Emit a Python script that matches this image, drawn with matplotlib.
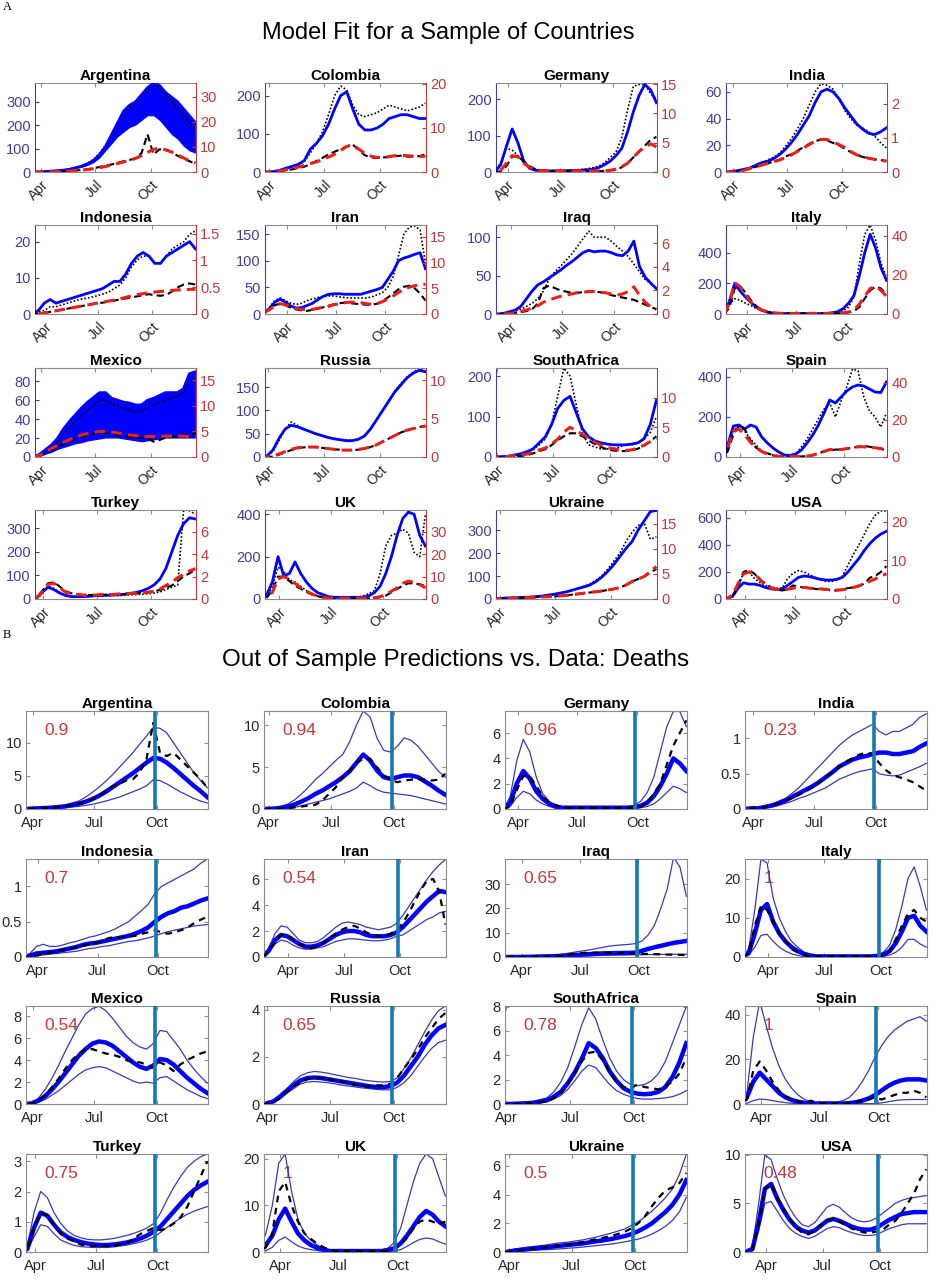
import numpy as np
import matplotlib
matplotlib.use('Agg')
import matplotlib.pyplot as plt

plt.rcParams['font.family'] = ['Liberation Sans', 'DejaVu Sans']

# ---------------- common axis data ----------------
DAYS = np.arange(50, 351, 10)          # day-of-year 2020 grid (Feb 19 ... Dec 15)
X_END = 351
FORECAST_DAY = 272
MONTH_TICKS = [92, 183, 275]
MONTH_LABELS = ['Apr', 'Jul', 'Oct']

COUNTRIES = ['Argentina', 'Colombia', 'Germany', 'India',
             'Indonesia', 'Iran', 'Iraq', 'Italy',
             'Mexico', 'Russia', 'SouthAfrica', 'Spain',
             'Turkey', 'UK', 'Ukraine', 'USA']
START_DAY = [82, 85, 72, 80, 74, 52, 66, 54, 82, 87, 90, 67, 78, 67, 86, 58]

# ---------------- Part A: model fit ----------------
A_YMAX_L = [380, 233, 244, 66.6, 24.6, 167, 116, 580, 94, 191, 220, 445, 378, 420, 387, 657]
A_YMAX_R = [35.4, 20.2, 15.2, 2.6, 1.66, 17.3, 7.55, 45.4, 17.4, 11.6, 15.0, 47.9, 7.93, 39.8, 17.8, 23.0]
A_TICKS_L = [[0, 100, 200, 300], [0, 100, 200], [0, 100, 200], [0, 20, 40, 60],
             [0, 10, 20], [0, 50, 100, 150], [0, 50, 100], [0, 200, 400],
             [0, 20, 40, 60, 80], [0, 50, 100, 150], [0, 100, 200], [0, 200, 400],
             [0, 100, 200, 300], [0, 200, 400], [0, 100, 200, 300], [0, 200, 400, 600]]
A_TICKS_R = [[0, 10, 20, 30], [0, 10, 20], [0, 5, 10, 15], [0, 1, 2],
             [0, 0.5, 1, 1.5], [0, 5, 10, 15], [0, 2, 4, 6], [0, 20, 40],
             [0, 5, 10, 15], [0, 5, 10], [0, 5, 10], [0, 20, 40],
             [0, 2, 4, 6], [0, 10, 20, 30], [0, 5, 10, 15], [0, 10, 20]]

# cm = model cases (blue), clo = lower envelope of oscillating model cases,
# cd = case data (black dotted), dm = model deaths (red), dd = death data (black dashed)
a_arg_cm = [0,0,0,0, 1,2,4,6,8,12, 18,25,35,50,75,110,160,210,260,285, 300,330,360,380,370,340,320,300,270,240, 210]
a_arg_clo = [0,0,0,0, 1,2,3,5,7,10, 15,20,28,40,60,90,120,150,170,190, 200,220,240,240,220,190,160,140,110,90, 80]
a_arg_cd = [0,0,0,0, 1,2,4,6,9,13, 19,27,38,55,80,115,160,200,240,270, 290,320,350,370,360,330,300,270,240,210, 180]
a_arg_dm = [0,0,0,0, 0,0.05,0.1,0.2,0.3,0.4, 0.6,0.8,1.0,1.3,1.7,2.2,2.8,3.4,4.0,4.6, 5.4,6.5,7.8,9.0,9.5,8.8,8.0,6.8,5.6,4.5, 3.6]
a_arg_dd = [0,0,0,0, 0,0.05,0.1,0.2,0.3,0.4, 0.6,0.8,1.1,1.5,2.0,2.6,3.0,3.6,4.3,4.8, 5.5,7.5,15,7,9,9,8,6.5,5.3,4.3, 3.3]

a_col_cm = [0,0,0,0, 0,1,5,10,15,20, 30,60,75,95,125,165,200,210,165,125, 110,110,115,125,140,145,150,150,145,140, 140]
a_col_cd = [0,0,0,0, 0,1,4,8,13,18, 28,50,75,105,150,200,225,215,175,150, 145,150,155,165,175,170,165,160,165,170, 180]
a_col_dm = [0,0,0,0, 0,0.1,0.3,0.5,0.8,1.1, 1.5,1.9,2.3,2.8,3.4,4.0,4.9,5.8,6.2,5.2, 4.2,3.6,3.3,3.3,3.5,3.7,3.8,3.7,3.6,3.5, 3.6]
a_col_dd = [0,0,0,0, 0,0.05,0.2,0.4,0.6,0.9, 1.2,1.8,2.5,3.2,4.0,4.6,5.2,5.8,6.2,5.0, 3.8,3.3,3.2,3.3,3.4,3.6,3.7,3.5,3.5,3.6, 4.0]

a_ger_cm = [0,0,0,20,70,118,80,30,10,5, 4,3,3,3,3,4,4,5,6,8, 12,20,30,45,65,110,165,210,240,225, 190]
a_ger_cd = [0,0,0,25,65,60,45,25,12,7, 5,4,4,4,5,5,6,7,9,12, 16,25,40,55,95,170,235,240,240,215, 200]
a_ger_dm = [0,0,0,0.3,1.5,2.8,2.6,1.5,0.8,0.4, 0.25,0.2,0.2,0.2,0.2,0.2,0.2,0.2,0.2,0.2, 0.2,0.2,0.3,0.5,0.9,1.5,2.5,3.5,4.3,4.8, 4.3]
a_ger_dd = [0,0,0,0.1,1.0,2.6,2.8,1.8,1.0,0.5, 0.3,0.2,0.15,0.15,0.15,0.15,0.15,0.15,0.15,0.15, 0.15,0.2,0.3,0.4,0.8,1.5,2.5,3.5,4.5,5.5, 6.0]

a_ind_cm = [0,0,0,0, 0.5,1,2,3,5,7, 8,10,13,17,22,28,35,42,52,60, 62,60,55,48,42,36,32,29,28,30, 33]
a_ind_cd = [0,0,0,0, 0.5,1,2,3,5,7, 9,11,14,19,25,32,40,50,60,66, 65,62,55,46,40,35,33,30,27,22, 18]
a_ind_dm = [0,0,0,0, 0,0.02,0.05,0.1,0.15,0.2, 0.25,0.3,0.35,0.42,0.5,0.6,0.7,0.8,0.9,0.95, 0.95,0.88,0.8,0.72,0.6,0.5,0.45,0.4,0.37,0.34, 0.32]
a_ind_dd = [0,0,0,0, 0,0.02,0.05,0.1,0.15,0.2, 0.25,0.3,0.36,0.45,0.52,0.62,0.72,0.82,0.9,0.95, 0.92,0.85,0.78,0.68,0.58,0.5,0.44,0.4,0.37,0.35, 0.32]

a_idn_cm = [0,0,0,1,3,4,3,3.5,4,4.5, 5,5.5,6,6.5,7,8,9,9,11,14, 16,17,16,14,14,16,17,18,19,20, 18]
a_idn_cd = [0,0,0,0.5,1,2,2,2.5,3,3.5, 4,4.3,4.6,5,5.5,6,7,8,10,13, 15,16,16,14,14,16,18,19,20,22, 23]
a_idn_dm = [0,0,0,0,0.02,0.04,0.06,0.08,0.1,0.12, 0.14,0.16,0.18,0.2,0.22,0.24,0.26,0.28,0.31,0.34, 0.36,0.38,0.4,0.41,0.42,0.43,0.44,0.45,0.45,0.46, 0.46]
a_idn_dd = [0,0,0,0,0.02,0.04,0.06,0.08,0.1,0.12, 0.14,0.16,0.18,0.2,0.21,0.23,0.25,0.27,0.29,0.31, 0.33,0.35,0.37,0.35,0.34,0.36,0.42,0.5,0.55,0.57, 0.55]

a_irn_cm = [2,10,22,28,22,15,11,12,16,20, 27,33,37,38,38,37,37,37,37,40, 43,46,50,65,80,100,105,108,112,115, 85]
a_irn_cd = [2,12,25,30,25,20,18,20,25,28, 31,33,34,34,32,31,30,30,30,30, 32,36,40,50,70,110,150,163,165,158, 95]
a_irn_dm = [0.3,0.8,1.6,2.0,1.8,1.3,1.0,0.9,0.8,0.9, 1.1,1.3,1.5,1.8,2.0,2.2,2.3,2.3,2.2,2.0, 1.9,2.0,2.4,2.9,3.5,4.2,4.8,5.2,5.5,5.7, 5.8]
a_irn_dd = [0.3,0.8,1.7,2.0,1.7,1.2,0.9,0.7,0.6,0.8, 1.0,1.3,1.6,1.9,2.1,2.2,2.1,2.0,1.9,1.8, 1.8,2.0,2.5,3.2,4.0,4.8,5.3,5.5,5.0,4.0, 2.6]

a_irq_cm = [0,0,0,1,3,5,10,20,30,38, 42,47,52,57,63,68,74,80,83,81, 82,82,80,77,76,82,95,62,48,40, 33]
a_irq_cd = [0,0,0,1,2,4,6,10,14,20, 30,45,55,62,70,78,88,98,108,100, 100,100,95,88,82,75,65,55,45,40, 35]
a_irq_dm = [0,0,0,0,0.05,0.1,0.2,0.35,0.5,0.7, 1.0,1.2,1.35,1.5,1.6,1.7,1.8,1.85,1.9,1.9, 1.85,1.8,1.7,1.6,1.7,1.9,2.3,1.6,1.0,0.6, 0.4]
a_irq_dd = [0,0,0,0,0.05,0.1,0.15,0.25,0.4,0.9, 2.2,2.4,2.2,2.0,1.9,1.8,1.8,1.85,1.9,1.9, 1.85,1.75,1.6,1.5,1.4,1.3,1.2,1.0,0.8,0.6, 0.4]

a_ita_cm = [0,80,200,150,110,75,45,25,12,6, 4,3,3,3,3,3,3,3,3,4, 8,15,35,70,120,250,400,520,430,300, 220]
a_ita_cd = [0,60,100,90,70,55,35,20,12,6, 4,3,3,3,3,3,3,3,3,4, 6,10,20,45,110,330,520,580,480,330, 240]
a_ita_dm = [0,5,16,14,10,6,3.5,2,1.2,0.7, 0.4,0.3,0.3,0.3,0.3,0.3,0.3,0.3,0.3,0.3, 0.3,0.4,0.6,1.0,2.0,5,9,13,14,12, 9]
a_ita_dd = [0,3,13,14,11,7,4,2.2,1.2,0.7, 0.4,0.3,0.3,0.3,0.3,0.3,0.3,0.3,0.3,0.3, 0.3,0.3,0.4,0.8,1.5,3.5,8,12,14,13, 10]

a_mex_cm = [0,0,0,0, 3,8,13,20,30,38, 45,52,58,63,68,68,62,60,58,57, 55,55,60,62,65,68,68,68,72,88, 90]
a_mex_clo = [0,0,0,0, 1,3,5,8,10,12, 14,15,17,18,19,20,20,20,19,18, 17,16,17,18,19,20,20,20,20,20, 20]
a_mex_cd = [0,0,0,0, 2,6,10,16,24,32, 38,44,50,55,60,60,56,54,52,50, 48,48,52,55,58,60,62,64,68,85, 90]
a_mex_dm = [0,0,0,0, 0.3,1.0,1.7,2.3,2.9,3.4, 3.9,4.3,4.6,4.8,5.0,5.0,4.9,4.7,4.5,4.3, 4.2,4.1,4.0,4.0,4.0,4.1,4.1,4.1,4.1,4.0, 3.8]
a_mex_dd = [0,0,0,0, 0.2,0.7,1.4,2.0,2.6,3.1, 3.6,4.0,4.4,4.6,4.8,4.7,4.5,4.3,4.1,3.9, 3.8,3.7,3.6,3.0,3.3,3.8,3.9,4.0,4.3,4.5, 4.5]

a_rus_cm = [0,0,0,0, 2,15,40,60,68,65, 60,55,50,46,42,39,37,35,35,38, 45,60,80,100,120,140,155,170,180,186, 183]
a_rus_cd = [0,0,0,0, 2,12,35,60,75,68, 60,55,50,46,42,40,38,36,36,38, 45,60,80,100,122,142,158,172,182,190, 185]
a_rus_dm = [0,0,0,0, 0,0.1,0.4,0.7,1.0,1.2, 1.3,1.3,1.3,1.2,1.1,1.0,0.9,0.9,0.9,1.0, 1.1,1.3,1.6,2.0,2.4,2.8,3.2,3.5,3.7,3.9, 4.0]
a_rus_dd = [0,0,0,0, 0,0.05,0.3,0.6,0.9,1.1, 1.25,1.3,1.3,1.2,1.1,1.0,0.95,0.9,0.9,0.95, 1.1,1.3,1.6,2.0,2.4,2.8,3.2,3.5,3.7,3.9, 4.1]

a_saf_cm = [0,0,0,0, 0,1,2,5,8,13, 20,35,50,80,120,140,150,110,70,50, 40,35,32,30,30,30,32,35,45,80, 140]
a_saf_cd = [0,0,0,0, 0,1,2,4,7,12, 18,30,45,80,150,220,200,130,60,30, 25,20,20,20,25,30,30,35,45,60, 100]
a_saf_dm = [0,0,0,0, 0,0.05,0.1,0.2,0.3,0.5, 0.8,1.2,1.5,2.2,3.0,4.2,5.0,4.5,3.8,3.2, 2.5,2.0,1.6,1.4,1.2,1.1,1.2,1.5,2.0,2.6, 3.2]
a_saf_dd = [0,0,0,0, 0,0.02,0.05,0.1,0.15,0.3, 0.6,1.0,1.3,2.0,2.8,3.5,4.0,4.0,3.5,2.8, 2.2,1.7,1.3,1.1,1.0,1.0,1.1,1.4,1.9,2.6, 3.5]

a_esp_cm = [0,0,60,155,160,140,160,150,100,70, 45,25,10,8,15,35,70,110,160,220, 285,270,300,330,350,360,355,340,325,322, 375]
a_esp_cd = [0,0,40,130,160,130,90,60,30,15, 10,5,5,5,15,50,90,140,190,240, 270,200,280,350,440,430,300,230,200,150, 220]
a_esp_dm = [0,0,5,14,15,12,8,5,3,1.5, 0.8,0.3,0.3,0.3,0.3,0.3,0.5,1,2,3, 4,4,4,4.5,5,5.5,5.5,5,5,4.5, 4]
a_esp_dd = [0,0,3,12,17,15,9,5,3,2, 1,0.5,0.3,0.3,0.3,0.3,0.5,1,2,3, 3.5,4,4,4.5,5,5.5,6,5.5,5,4.5, 3.5]

a_tur_cm = [0,0,0,2,28,50,40,25,15,10, 10,10,12,14,15,16,17,18,20,24, 28,35,45,60,85,130,200,270,320,345, 340]
a_tur_cd = [0,0,0,1,20,55,45,28,16,10, 9,9,10,12,13,14,14,15,16,18, 19,20,22,25,30,40,50,60,378,375, 360]
a_tur_dm = [0,0,0,0.1,0.6,1.3,1.4,1.0,0.6,0.45, 0.4,0.35,0.35,0.35,0.4,0.4,0.4,0.45,0.45,0.5, 0.5,0.55,0.6,0.7,0.9,1.2,1.5,1.9,2.2,2.5, 2.7]
a_tur_dd = [0,0,0,0.1,0.7,1.4,1.5,1.1,0.7,0.5, 0.4,0.35,0.35,0.35,0.35,0.4,0.4,0.4,0.45,0.5, 0.5,0.55,0.6,0.7,0.8,1.0,1.2,1.6,2.0,2.3, 2.6]

a_uk_cm = [0,0,20,80,200,110,120,175,120,80, 50,30,20,10,8,8,8,8,8,8, 15,30,60,120,200,300,380,410,400,300, 250]
a_uk_cd = [0,0,10,60,150,130,90,80,60,40, 25,15,8,8,8,8,8,8,8,15, 25,40,120,250,300,310,330,310,220,200, 400]
a_uk_dm = [0,0,1,3,9,10,9,7,5,3.5, 2.2,1.3,0.8,0.4,0.4,0.4,0.4,0.4,0.4,0.4, 0.4,0.6,1,2,3.5,5,7,8,7.5,6.5, 5]
a_uk_dd = [0,0,0.5,4,10,10,8,6,4.5,3.2, 2,1.2,0.7,0.4,0.3,0.3,0.3,0.3,0.3,0.3, 0.3,0.4,0.8,1.5,3,4.5,6,7,7,6.5, 6]

a_ukr_cm = [0,0,0,0, 2,4,5,6,7,8, 10,12,16,20,25,30,37,45,52,60, 75,95,120,150,185,220,250,300,340,380, 385]
a_ukr_cd = [0,0,0,0, 2,4,5,6,7,8, 10,12,16,20,25,30,37,45,55,65, 80,100,130,165,200,250,290,320,330,260, 270]
a_ukr_dm = [0,0,0,0, 0.05,0.1,0.15,0.2,0.25,0.3, 0.35,0.4,0.45,0.5,0.6,0.7,0.85,1.0,1.15,1.3, 1.45,1.6,1.8,2.0,2.3,2.8,3.5,4.0,4.5,5.5, 6.5]
a_ukr_dd = [0,0,0,0, 0.05,0.1,0.15,0.2,0.25,0.3, 0.35,0.4,0.45,0.5,0.6,0.7,0.85,1.0,1.15,1.3, 1.45,1.6,1.8,2.0,2.3,2.8,3.5,4.0,4.5,5.3, 6.0]

a_usa_cm = [0,5,20,80,120,110,110,100,85,75, 70,75,100,130,160,170,165,155,145,140, 140,145,160,200,250,300,360,410,450,480, 500]
a_usa_cd = [0,3,15,80,200,200,150,120,100,90, 80,80,150,190,210,200,180,160,140,130, 130,140,170,250,330,400,480,560,620,650, 650]
a_usa_dm = [0,0.2,1,4,6.5,7,6.5,5,3.5,2.8, 2.5,2.3,2.5,2.8,3,3,2.8,2.7,2.6,2.5, 2.4,2.3,2.4,2.6,3.0,3.4,4.0,4.6,5.2,6, 6.5]
a_usa_dd = [0,0.1,0.8,3.5,7,7.5,6.5,5,4,3, 2.5,2.2,2.5,3.5,3.2,3.0,3.0,2.6,2.5,2.4, 2.2,2.2,2.5,2.8,3.0,3.3,4.0,5.5,6.0,7.0, 8.5]

# ---------------- Part B: out-of-sample death predictions ----------------
B_YMAX = [14.8, 11.7, 7.74, 1.39, 1.39, 7.55, 40.3, 25, 8.93, 4.15, 8.05, 43.8, 3.24, 21, 6.82, 10.07]
B_YTICKS = [[0, 5, 10], [0, 5, 10], [0, 2, 4, 6], [0, 0.5, 1],
            [0, 0.5, 1], [0, 2, 4, 6], [0, 10, 20, 30], [0, 10, 20],
            [0, 2, 4, 6, 8], [0, 2, 4], [0, 2, 4, 6, 8], [0, 20, 40],
            [0, 1, 2, 3], [0, 10, 20], [0, 2, 4, 6], [0, 5, 10]]
B_SCORE = ['0.9', '0.94', '0.96', '0.23', '0.7', '0.54', '0.65', '1',
           '0.54', '0.65', '0.78', '1', '0.75', '1', '0.5', '0.48']

b_arg_med = [0,0,0,0, 0.05,0.1,0.15,0.2,0.3,0.4, 0.6,0.8,1.1,1.5,2.0,2.6,3.3,4.0,4.7,5.4, 6.2,7.0,7.7,7.6,7.0,6.2,5.3,4.4,3.5,2.7, 1.8]
b_arg_hi = [0,0,0,0, 0.08,0.15,0.25,0.35,0.45,0.6, 0.9,1.2,1.8,2.5,3.3,4.2,5.2,6.3,7.4,8.5, 9.8,11,12.3,12.2,11.5,10,8.5,7,5.5,4.3, 3.2]
b_arg_lo = [0,0,0,0, 0.02,0.05,0.07,0.1,0.15,0.2, 0.3,0.4,0.55,0.7,0.95,1.2,1.5,1.8,2.2,2.6, 3.0,3.5,4.4,4.3,3.8,3.2,2.6,2.1,1.6,1.2, 0.9]
b_arg_data = [0,0,0,0, 0.05,0.1,0.15,0.2,0.3,0.4, 0.6,0.8,1.1,1.5,2.0,2.8,3.4,3.8,4.3,4.5, 5.5,7.5,13,8.5,8,8.5,7.5,6.5,5.5,4.5, 3.2]

b_col_med = [0,0,0,0, 0.02,0.05,0.15,0.3,0.55,0.9, 1.3,1.8,2.2,2.7,3.2,3.8,4.5,5.5,6.5,5.8, 4.6,3.8,3.6,3.8,4.0,4.0,3.8,3.3,2.8,2.2, 1.7]
b_col_hi = [0,0,0,0, 0.05,0.1,0.3,0.6,1.1,1.8, 2.6,3.5,4.2,5,5.8,6.5,8,10,11.7,11, 8.5,7,6.8,7.5,8.5,8.2,7.5,6.5,5.5,4.5, 3.8]
b_col_lo = [0,0,0,0, 0.01,0.02,0.05,0.1,0.2,0.4, 0.6,0.8,1.0,1.2,1.5,1.8,2.1,2.5,3.2,2.8, 2.3,2.0,1.9,1.8,1.7,1.6,1.4,1.2,1.0,0.8, 0.6]
b_col_data = [0,0,0,0, 0,0,0.05,0.1,0.2,0.3, 0.4,0.5,1.0,1.8,2.6,3.8,4.6,5.5,6.0,6.0, 5.0,4.0,3.5,3.2,3.4,3.5,3.6,3.5,3.4,3.5, 4.2]

b_ger_med = [0,0,0,0.5,2.0,3.0,2.4,1.4,0.8,0.4, 0.2,0.1,0.1,0.1,0.1,0.1,0.1,0.1,0.1,0.1, 0.1,0.1,0.15,0.25,0.5,1.0,1.8,2.8,4.0,3.6, 3.0]
b_ger_hi = [0,0,0,1,3.8,5.5,4.5,2.5,1.2,0.6, 0.3,0.15,0.15,0.15,0.15,0.15,0.15,0.15,0.15,0.15, 0.15,0.15,0.3,0.6,1.3,2.5,4.5,6.5,7.7,7.7, 6.5]
b_ger_lo = [0,0,0,0.2,0.9,1.4,1.2,0.7,0.4,0.2, 0.05,0.05,0.05,0.05,0.05,0.05,0.05,0.05,0.05,0.05, 0.05,0.05,0.05,0.1,0.2,0.4,0.8,1.3,1.8,1.6, 1.3]
b_ger_data = [0,0,0,0.2,1.5,2.6,2.6,1.8,1.0,0.5, 0.3,0.1,0.1,0.1,0.1,0.1,0.1,0.1,0.1,0.1, 0.1,0.1,0.1,0.2,0.5,1.2,2.0,3.5,5.0,6.0, 7.0]

b_ind_med = [0,0,0,0, 0.01,0.01,0.03,0.05,0.08,0.12, 0.17,0.22,0.27,0.32,0.38,0.45,0.52,0.6,0.65,0.7, 0.73,0.75,0.78,0.8,0.8,0.78,0.78,0.8,0.82,0.88, 0.93]
b_ind_hi = [0,0,0,0, 0.01,0.02,0.04,0.07,0.11,0.15, 0.22,0.3,0.4,0.5,0.6,0.7,0.8,0.9,0.98,1.05, 1.1,1.15,1.2,1.1,1.05,1.1,1.1,1.15,1.2,1.3, 1.35]
b_ind_lo = [0,0,0,0, 0.005,0.01,0.02,0.03,0.05,0.08, 0.11,0.15,0.18,0.22,0.26,0.3,0.36,0.42,0.46,0.5, 0.53,0.55,0.57,0.5,0.48,0.47,0.48,0.52,0.56,0.6, 0.65]
b_ind_data = [0,0,0,0, 0.01,0.01,0.03,0.05,0.08,0.12, 0.16,0.2,0.25,0.3,0.37,0.45,0.52,0.6,0.67,0.72, 0.77,0.8,0.78,0.65,0.55,0.48,0.45,0.42,0.38,0.32, 0.26]

b_idn_med = [0,0,0,0.02,0.05,0.06,0.07,0.08,0.1,0.12, 0.14,0.17,0.19,0.2,0.22,0.24,0.26,0.28,0.3,0.33, 0.37,0.42,0.5,0.57,0.62,0.65,0.7,0.72,0.76,0.8, 0.83]
b_idn_hi = [0,0,0,0.05,0.15,0.18,0.15,0.15,0.17,0.2, 0.22,0.25,0.28,0.3,0.33,0.36,0.4,0.45,0.5,0.58, 0.66,0.75,0.9,1.0,1.05,1.1,1.15,1.2,1.25,1.33, 1.39]
b_idn_lo = [0,0,0,0,0.02,0.03,0.04,0.05,0.06,0.07, 0.08,0.1,0.12,0.13,0.15,0.16,0.18,0.2,0.22,0.23, 0.25,0.27,0.3,0.33,0.36,0.38,0.4,0.42,0.44,0.45, 0.46]
b_idn_data = [0,0,0,0,0.02,0.04,0.06,0.08,0.1,0.12, 0.14,0.16,0.18,0.2,0.23,0.27,0.28,0.28,0.29,0.3, 0.33,0.35,0.38,0.35,0.33,0.35,0.38,0.42,0.48,0.53, 0.57]

b_irn_med = [0,0.5,1.3,1.7,1.6,1.3,1.0,0.8,0.8,0.9, 1.1,1.4,1.7,1.9,2.0,2.0,1.9,1.7,1.6,1.6, 1.6,1.7,1.9,2.3,2.8,3.3,3.8,4.3,4.7,5.1, 5.0]
b_irn_hi = [0,0.7,1.8,2.4,2.3,1.8,1.3,1.1,1.1,1.2, 1.5,1.9,2.3,2.6,2.7,2.6,2.5,2.3,2.2,2.1, 2.2,2.3,2.6,3.2,3.9,4.6,5.3,6.0,6.6,7.1, 7.5]
b_irn_lo = [0,0.4,1.0,1.3,1.2,0.9,0.7,0.6,0.6,0.7, 0.8,1.0,1.2,1.3,1.4,1.4,1.35,1.3,1.25,1.25, 1.3,1.4,1.6,1.7,2.0,2.3,2.6,2.9,3.1,3.4, 3.5]
b_irn_data = [0,0.5,1.1,1.7,1.7,1.4,1.0,0.8,0.7,0.8, 1.1,1.5,1.8,2.1,2.3,2.4,2.2,1.9,1.7,1.6, 1.6,1.8,2.1,2.6,3.4,4.3,5.2,5.9,6.0,5.0, 2.5]

b_irq_med = [0,0,0,0,0,0.05,0.1,0.2,0.25,0.3, 0.45,0.6,0.75,0.9,1.05,1.2,1.35,1.5,1.55,1.6, 1.65,1.7,1.8,2.5,3.3,4.0,4.6,5.2,5.8,6.2, 6.6]
b_irq_hi = [0,0,0,0,0,0.1,0.2,0.3,0.45,0.6, 0.9,1.3,1.8,2.2,2.6,3.0,3.5,4.0,4.5,4.8, 5.0,5.2,5.5,6.5,9,13,20,28,41,37, 25]
b_irq_lo = [0,0,0,0,0,0.02,0.04,0.06,0.08,0.1, 0.15,0.2,0.3,0.35,0.4,0.5,0.6,0.7,0.75,0.8, 0.85,0.9,0.9,0.95,1.0,1.0,1.05,1.05,1.1,1.1, 1.1]
b_irq_data = [0,0,0,0,0,0.05,0.1,0.15,0.2,0.2, 0.4,0.8,1.2,1.5,1.7,1.8,1.8,1.8,1.75,1.7, 1.65,1.6,1.5,1.3,1.25,1.2,1.1,1.0,0.95,0.9, 0.8]

b_ita_med = [0,1,6,12,13.5,9,6,4,2.5,1.5, 0.8,0.4,0.15,0.15,0.15,0.15,0.15,0.15,0.15,0.15, 0.15,0.15,0.3,0.6,1.5,3.5,6.5,10,10.5,8, 6.5]
b_ita_hi = [0,2,12,25,24,15,10,6.5,4,2.5, 1.3,0.6,0.3,0.3,0.3,0.3,0.3,0.3,0.3,0.3, 0.3,0.3,0.5,1.2,3,7,13,20,23,18, 12]
b_ita_lo = [0,0.5,2.5,5.5,5.8,4,2.5,1.5,0.8,0.4, 0.1,0.1,0.1,0.1,0.1,0.1,0.1,0.1,0.1,0.1, 0.1,0.1,0.1,0.2,0.5,1.2,2.5,4.5,4.5,3.3, 2.5]
b_ita_data = [0,1,8,13,12,9,6,4,2,1.2, 0.6,0.2,0.2,0.2,0.2,0.2,0.2,0.2,0.2,0.2, 0.2,0.2,0.2,0.4,1.5,4.5,8,11,12,10, 9]

b_mex_med = [0,0,0,0, 0.05,0.3,0.7,1.3,2.0,2.8, 3.6,4.4,5.0,5.5,5.7,5.6,5.3,4.8,4.3,3.8, 3.4,3.2,3.5,4.1,4.0,3.6,3.0,2.4,1.9,1.4, 1.0]
b_mex_hi = [0,0,0,0, 0.1,0.5,1.3,2.3,3.5,4.8, 6.0,7.2,8.2,8.7,8.9,8.5,7.8,7.0,6.2,5.6, 5.2,5.0,5.5,6.7,6.6,5.8,5.0,4.0,3.2,2.5, 1.9]
b_mex_lo = [0,0,0,0, 0.02,0.15,0.4,0.8,1.2,1.7, 2.2,2.7,3.1,3.3,3.4,3.3,3.0,2.7,2.4,2.1, 1.9,2.0,1.9,2.4,2.5,2.1,1.7,1.3,1.0,0.7, 0.5]
b_mex_data = [0,0,0,0, 0.05,0.3,0.8,1.5,2.3,3.2, 4.0,4.6,5.0,5.0,4.8,4.6,4.5,4.3,4.0,3.8, 3.8,3.6,3.3,3.8,3.5,3.0,3.6,4.0,4.3,4.6, 4.8]

b_rus_med = [0,0,0,0, 0.02,0.1,0.3,0.55,0.8,1.0, 1.1,1.12,1.1,1.05,1.0,0.95,0.9,0.85,0.8,0.75, 0.72,0.72,0.75,0.9,1.2,1.6,2.0,2.5,2.9,3.2, 3.35]
b_rus_hi = [0,0,0,0, 0.04,0.15,0.4,0.65,0.95,1.2, 1.32,1.38,1.35,1.3,1.24,1.18,1.12,1.08,1.02,0.98, 0.95,0.93,0.95,1.1,1.5,1.95,2.5,3.05,3.55,3.95, 4.15]
b_rus_lo = [0,0,0,0, 0.01,0.07,0.22,0.45,0.65,0.85, 0.93,0.95,0.93,0.9,0.85,0.8,0.76,0.72,0.68,0.65, 0.62,0.6,0.6,0.7,0.9,1.2,1.6,2.0,2.35,2.6, 2.7]
b_rus_data = [0,0,0,0, 0,0.05,0.25,0.5,0.75,0.9, 1.05,1.15,1.1,1.05,1.0,0.95,0.85,0.8,0.75,0.75, 0.78,0.8,0.85,1.1,1.5,1.9,2.3,2.8,3.2,3.6, 3.85]

b_saf_med = [0,0,0,0, 0,0.01,0.03,0.06,0.1,0.2, 0.3,0.6,1.0,1.7,2.6,3.7,5.0,4.6,3.8,2.7, 1.9,1.3,1.0,0.85,0.8,0.85,1.0,1.4,2.2,3.4, 5.0]
b_saf_hi = [0,0,0,0, 0,0.02,0.05,0.1,0.2,0.35, 0.5,1.0,1.8,3.0,4.7,6.5,7.9,7.0,5.3,3.8, 2.7,2.0,1.6,1.5,1.6,1.9,2.5,3.5,5.0,6.5, 8.0]
b_saf_lo = [0,0,0,0, 0,0.005,0.01,0.03,0.05,0.1, 0.2,0.4,0.7,1.2,1.9,2.7,3.2,3.0,2.3,1.6, 1.1,0.8,0.6,0.45,0.4,0.4,0.45,0.5,0.6,0.8, 1.1]
b_saf_data = [0,0,0,0, 0,0.01,0.03,0.05,0.1,0.15, 0.2,0.5,0.9,1.6,2.5,3.5,4.2,4.3,3.6,2.6, 1.8,1.4,1.3,1.6,1.4,1.3,1.2,1.5,1.8,2.5, 3.8]

b_esp_med = [0,0,3,10,14,11,8,5,3,1.8, 1.0,0.5,0.2,0.2,0.2,0.2,0.2,0.2,0.4,0.8, 1.5,2.5,4,6,8,9.5,10.5,11,11,11, 10.5]
b_esp_hi = [0,0,5,30,46,35,25,17,11,7, 4,2,1,0.8,0.8,0.8,0.8,1.5,3,6, 10,15,21,26,30,33,35,37,38,39, 37]
b_esp_lo = [0,0,0.3,1.5,2.2,2.0,1.5,1.0,0.6,0.3, 0.15,0.15,0.15,0.15,0.15,0.15,0.15,0.15,0.15,0.15, 0.15,0.15,0.15,0.5,1.0,1.5,1.8,2.0,2.0,2.0, 2.0]
b_esp_data = [0,0,2,15,19,15,10,6,3.5,2, 1,0.5,1.5,0.3,0.3,0.3,0.3,0.3,0.3,0.8, 1.5,2,3,2,3,4,5,5,6,5, 3]

b_tur_med = [0,0,0,0.1,0.8,1.3,1.2,0.9,0.65,0.5, 0.4,0.33,0.28,0.25,0.23,0.23,0.25,0.28,0.32,0.38, 0.45,0.55,0.68,0.85,1.1,1.35,1.6,1.85,2.05,2.2, 2.32]
b_tur_hi = [0,0,0,0.2,1.3,2.0,1.8,1.3,0.95,0.7, 0.55,0.47,0.42,0.4,0.4,0.42,0.45,0.5,0.55,0.62, 0.7,0.8,0.95,1.3,1.75,2.15,2.5,2.8,3.0,3.15, 3.24]
b_tur_lo = [0,0,0,0.05,0.5,0.9,0.85,0.6,0.4,0.3, 0.22,0.18,0.16,0.15,0.15,0.15,0.17,0.2,0.23,0.28, 0.33,0.4,0.5,0.65,0.82,0.98,1.12,1.25,1.35,1.43, 1.5]
b_tur_data = [0,0,0,0.05,0.8,1.3,1.2,0.9,0.6,0.45, 0.35,0.25,0.2,0.2,0.2,0.2,0.2,0.25,0.3,0.45, 0.6,0.7,0.8,0.72,0.8,0.95,1.15,1.5,2.0,2.5, 3.0]

b_uk_med = [0,0,1.5,3.5,7,9.3,6.5,4,2.5,1.5, 0.9,0.5,0.2,0.2,0.2,0.2,0.2,0.2,0.2,0.2, 0.2,0.4,0.8,1.8,3.5,5.5,7.5,8.8,8.0,6.5, 5.5]
b_uk_hi = [0,0,4,10,19,21,13,7,4,2.5, 1.5,0.8,0.4,0.4,0.4,0.4,0.4,0.4,0.4,0.4, 0.4,0.8,2,5,10,15,19,21,20,16, 12]
b_uk_lo = [0,0,0.3,1,2.5,3.2,2.2,1.3,0.8,0.5, 0.3,0.1,0.1,0.1,0.1,0.1,0.1,0.1,0.1,0.1, 0.1,0.1,0.2,0.5,1.2,2.0,2.7,3.0,2.8,2.2, 1.7]
b_uk_data = [0,0,1,4,13,15,10,6.5,4,2.8, 1.8,1.0,0.5,0.2,0.2,0.2,0.2,0.2,0.2,0.2, 0.2,0.3,0.6,1.5,3,5,6.5,7.0,6.5,6.0, 6.5]

b_ukr_med = [0,0,0,0, 0.02,0.1,0.15,0.2,0.25,0.3, 0.35,0.4,0.45,0.5,0.55,0.6,0.68,0.75,0.82,0.9, 1.0,1.1,1.25,1.45,1.7,2.0,2.4,2.8,3.3,4.0, 5.0]
b_ukr_hi = [0,0,0,0, 0.05,0.2,0.28,0.35,0.4,0.45, 0.52,0.6,0.65,0.7,0.78,0.85,0.95,1.05,1.18,1.3, 1.45,1.6,1.85,2.1,2.45,2.85,3.3,3.8,4.4,5.4, 6.8]
b_ukr_lo = [0,0,0,0, 0.01,0.05,0.07,0.1,0.12,0.15, 0.17,0.2,0.23,0.27,0.3,0.35,0.4,0.45,0.5,0.55, 0.62,0.7,0.8,0.9,1.05,1.25,1.5,1.8,2.2,2.8, 3.8]
b_ukr_data = [0,0,0,0, 0.02,0.1,0.15,0.2,0.25,0.3, 0.35,0.4,0.47,0.55,0.62,0.7,0.8,0.9,1.0,1.1, 1.25,1.4,1.65,2.0,2.5,3.2,3.8,4.3,4.5,4.8, 5.5]

b_usa_med = [0,0.05,0.3,3,6.5,7.0,5.5,4.3,3.3,2.6, 2.2,2.0,2.2,2.7,3.2,3.4,3.2,2.9,2.6,2.4, 2.3,2.3,2.5,2.9,3.3,3.6,3.9,4.0,4.1,4.1, 4.1]
b_usa_hi = [0,0.1,0.5,5,10,9.5,7.5,5.8,4.5,3.5, 2.8,2.6,3,3.8,4.6,4.9,4.6,4,3.5,3.2, 3.1,3.2,3.5,4,4.5,5.0,5.3,5.5,5.6,5.7, 5.8]
b_usa_lo = [0,0.02,0.2,2.2,5.0,5.2,4.2,3.2,2.4,1.9, 1.6,1.4,1.6,2.0,2.4,2.6,2.5,2.2,2.0,1.8, 1.7,1.7,1.8,2.1,2.4,2.6,2.8,2.9,2.9,2.9, 2.9]
b_usa_data = [0,0.02,0.2,3,6.5,7.0,5.5,4.5,3.5,2.5, 2.0,1.8,2.2,2.8,3.3,3.4,3.1,2.8,2.4,2.2, 2.0,2.0,2.1,2.3,2.8,3.2,4.0,5.0,6.0,7.5, 8.5]

# ---------------- tables built from the lists ----------------
KEYS = ['arg', 'col', 'ger', 'ind', 'idn', 'irn', 'irq', 'ita',
        'mex', 'rus', 'saf', 'esp', 'tur', 'uk', 'ukr', 'usa']
G = globals()
for kk in KEYS:
    for s in ['cm', 'cd', 'dm', 'dd']:
        assert len(G['a_%s_%s' % (kk, s)]) == len(DAYS), ('a', kk, s)
    for s in ['med', 'hi', 'lo', 'data']:
        assert len(G['b_%s_%s' % (kk, s)]) == len(DAYS), ('b', kk, s)

# ---------------- figure ----------------
W, H = 939, 1280
fig = plt.figure(figsize=(W / 100, H / 100), dpi=100)


def rect(l, t, w, h):
    return [l / W, 1 - (t + h) / H, w / W, h / H]


BLUE = '#0000ff'
LBLUE = '#3f3f9c'
RED = '#e8201c'
RED_TXT = '#c0393b'
GRAY = '#8c8c8c'
TXT = '#262626'
THIN = '#3a3ab0'
VLINE = '#1479b4'


def fmt(v):
    return '%g' % v


A_LEFT = [35, 265, 496, 726]
A_TOP = [83, 225, 368, 510]
A_W, A_H = 161, 89

for k, name in enumerate(COUNTRIES):
    kk = KEYS[k]
    r, c = divmod(k, 4)
    ax = fig.add_axes(rect(A_LEFT[c], A_TOP[r], A_W, A_H))
    ax2 = ax.twinx()
    cm = G['a_%s_cm' % kk]
    lo_name = 'a_%s_clo' % kk
    if lo_name in G:
        ax.fill_between(DAYS, G[lo_name], cm, color=BLUE, lw=0, zorder=2)
    ax.plot(DAYS, G['a_%s_cd' % kk], linestyle=(0, (1, 1.2)), color='k', lw=1.2, zorder=2)
    ax.plot(DAYS, cm, '-', color=BLUE, lw=2.0, zorder=3)
    ax2.plot(DAYS, G['a_%s_dd' % kk], color='k', lw=1.5, dashes=(3.5, 2))
    ax2.plot(DAYS, G['a_%s_dm' % kk], color=RED, lw=2.2, dashes=(3.5, 2))
    ax.set_xlim(START_DAY[k], X_END)
    ax.set_ylim(0, A_YMAX_L[k])
    ax2.set_ylim(0, A_YMAX_R[k])
    ax.set_yticks(A_TICKS_L[k])
    ax.set_yticklabels([fmt(v) for v in A_TICKS_L[k]])
    ax2.set_yticks(A_TICKS_R[k])
    ax2.set_yticklabels([fmt(v) for v in A_TICKS_R[k]])
    ax.set_xticks(MONTH_TICKS)
    ax.set_xticklabels(MONTH_LABELS, rotation=45, ha='right', va='top',
                       rotation_mode='anchor')
    ax.tick_params(axis='x', direction='in', length=3, top=True, color=GRAY,
                   labelcolor=TXT, labelsize=10, pad=4)
    ax.tick_params(axis='y', direction='in', length=3, colors=LBLUE,
                   labelsize=10.5, pad=3)
    ax2.tick_params(axis='y', direction='in', length=3, colors=RED_TXT,
                    labelsize=10.5, pad=3)
    for sp in ['top', 'bottom']:
        ax.spines[sp].set_color(GRAY)
        ax2.spines[sp].set_visible(False)
    ax.spines['left'].set_color(LBLUE)
    ax.spines['right'].set_visible(False)
    ax2.spines['left'].set_visible(False)
    ax2.spines['right'].set_color(RED_TXT)
    for sp in list(ax.spines.values()) + list(ax2.spines.values()):
        sp.set_linewidth(0.8)
    ax.set_title(name, fontsize=11, fontweight='bold', pad=2, color='k')

B_LEFT = [26, 264, 505, 745]
B_TOP = [711, 859, 1006, 1154]
B_W, B_H = 182, 98

for k, name in enumerate(COUNTRIES):
    kk = KEYS[k]
    r, c = divmod(k, 4)
    ax = fig.add_axes(rect(B_LEFT[c], B_TOP[r], B_W, B_H))
    ax.text(0.1, 0.8, B_SCORE[k], transform=ax.transAxes, color=RED_TXT,
            fontsize=12.5, ha='left', va='center', zorder=1.5)
    ax.plot(DAYS, G['b_%s_hi' % kk], color=THIN, lw=0.9, zorder=2)
    ax.plot(DAYS, G['b_%s_lo' % kk], color=THIN, lw=0.9, zorder=2)
    ax.plot(DAYS, G['b_%s_med' % kk], color=BLUE, lw=3.2, zorder=2.5)
    ax.plot(DAYS, G['b_%s_data' % kk], color='k', lw=1.6, dashes=(3, 2.5), zorder=3)
    ax.axvline(FORECAST_DAY, color=VLINE, lw=2.6, zorder=4)
    ax.set_xlim(START_DAY[k], X_END)
    ax.set_ylim(0, B_YMAX[k])
    ax.set_yticks(B_YTICKS[k])
    ax.set_yticklabels([fmt(v) for v in B_YTICKS[k]])
    ax.set_xticks(MONTH_TICKS)
    ax.set_xticklabels(MONTH_LABELS)
    ax.tick_params(axis='y', direction='in', length=3, right=True, color=GRAY,
                   labelcolor=TXT, labelsize=10.5, pad=3)
    ax.tick_params(axis='x', direction='in', length=3, top=True, color=GRAY,
                   labelcolor=TXT, labelsize=10.5, pad=5)
    for sp in ax.spines.values():
        sp.set_color(GRAY)
        sp.set_linewidth(0.8)
    ax.set_title(name, fontsize=11, fontweight='bold', pad=2, color='k')

fig.text(3 / W, 1 - 1 / H, 'A', family=['Liberation Serif', 'DejaVu Serif'],
         fontsize=9, ha='left', va='top')
fig.text(3 / W, 1 - 629 / H, 'B', family=['Liberation Serif', 'DejaVu Serif'],
         fontsize=9, ha='left', va='top')
fig.text(448 / W, 1 - 33 / H, 'Model Fit for a Sample of Countries',
         ha='center', va='center', fontsize=17, color='k')
fig.text(456 / W, 1 - 660 / H, 'Out of Sample Predictions vs. Data: Deaths',
         ha='center', va='center', fontsize=17.5, color='k')

fig.savefig('out.png', dpi=100)
